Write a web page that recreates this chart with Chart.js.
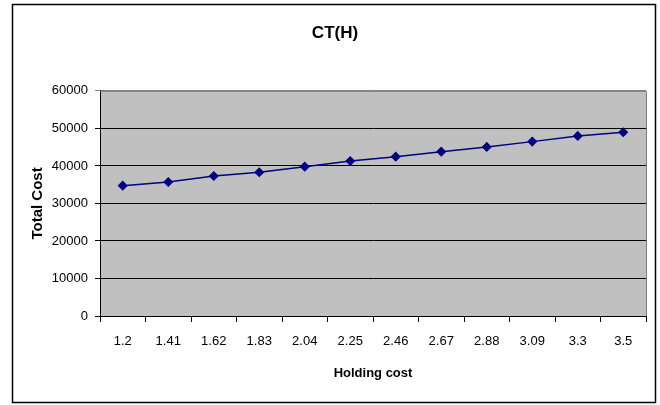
<!DOCTYPE html>
<html>
<head>
<meta charset="utf-8">
<script src="https://cdn.jsdelivr.net/npm/chart.js@4/dist/chart.umd.min.js"></script>
<style>
  html, body { margin: 0; padding: 0; background: #fff; }
  #wrap { width: 660px; height: 405px; }
</style>
</head>
<body>
<div id="wrap"><canvas id="costChart" width="660" height="405"></canvas></div>
<script>
const holdingCosts = ['1.2', '1.41', '1.62', '1.83', '2.04', '2.25', '2.46', '2.67', '2.88', '3.09', '3.3', '3.5'];
const totalCosts = [34750, 35730, 37330, 38320, 39810, 41330, 42480, 43810, 45070, 46480, 48000, 48990];
const yTicks = [0, 10000, 20000, 30000, 40000, 50000, 60000];

const FONT = 'Arial, "Liberation Sans", sans-serif';

// grey plot area and outer frame, like the spreadsheet chart
const frame = {
  id: 'frame',
  beforeDraw(chart) {
    const { ctx, chartArea: a } = chart;
    ctx.save();
    ctx.fillStyle = '#fff';
    ctx.fillRect(0, 0, chart.width, chart.height);
    ctx.fillStyle = '#c0c0c0';
    ctx.fillRect(a.left, a.top, a.right - a.left, a.bottom - a.top);
    ctx.restore();
  },
  afterDraw(chart) {
    const { ctx, chartArea: a } = chart;
    ctx.save();
    ctx.strokeStyle = '#808080';
    ctx.lineWidth = 1;
    ctx.beginPath();
    ctx.moveTo(a.left, a.top + 0.5);
    ctx.lineTo(a.right + 0.5, a.top + 0.5);
    ctx.lineTo(a.right + 0.5, a.bottom);
    ctx.stroke();
    ctx.strokeStyle = '#000';
    ctx.lineWidth = 1.5;
    ctx.strokeRect(12.5, 4.5, 643, 398);
    ctx.restore();
  }
};

new Chart(document.getElementById('costChart').getContext('2d'), {
  type: 'line',
  data: {
    labels: holdingCosts,
    datasets: [{
      label: 'CT(H)',
      data: totalCosts,
      borderColor: '#000080',
      backgroundColor: '#000080',
      borderWidth: 1.5,
      pointStyle: 'rectRot',
      pointRadius: 4,
      pointHoverRadius: 4,
      tension: 0
    }]
  },
  options: {
    responsive: false,
    animation: false,
    events: [],
    layout: { padding: { left: 24, right: 14, top: 0, bottom: 0 } },
    plugins: {
      legend: { display: false },
      tooltip: { enabled: false },
      title: {
        display: true,
        text: 'CT(H)',
        color: '#000',
        font: { family: FONT, size: 17, weight: 'bold' },
        padding: { top: 23.5, bottom: 47 }
      }
    },
    scales: {
      x: {
        offset: true,
        grid: { offset: true, drawOnChartArea: false, drawTicks: true, tickLength: 6, color: '#000' },
        border: { color: '#000', width: 1 },
        ticks: { color: '#000', font: { family: FONT, size: 13 }, padding: 12, maxRotation: 0, autoSkip: false },
        title: {
          display: true,
          text: 'Holding cost',
          color: '#000',
          font: { family: FONT, size: 13, weight: 'bold' },
          padding: { top: 0, bottom: 24 }
        },
        afterFit(scale) { scale.height = 89; }
      },
      y: {
        min: 0,
        max: 60000,
        afterBuildTicks(scale) { scale.ticks = yTicks.map(v => ({ value: v })); },
        grid: {
          color: ctx => (ctx.tick && ctx.tick.value === 60000 ? '#808080' : '#000'),
          tickLength: 5,
          drawTicks: true
        },
        border: { color: '#000', width: 1 },
        ticks: {
          color: '#000',
          font: { family: FONT, size: 13 },
          padding: 7,
          callback: v => String(v)
        },
        title: {
          display: true,
          text: 'Total Cost',
          color: '#000',
          font: { family: FONT, size: 15, weight: 'bold' },
          padding: { top: 4.5, bottom: 0 }
        },
        afterFit(scale) { scale.width = 76; }
      }
    }
  },
  plugins: [frame]
});
</script>
</body>
</html>
